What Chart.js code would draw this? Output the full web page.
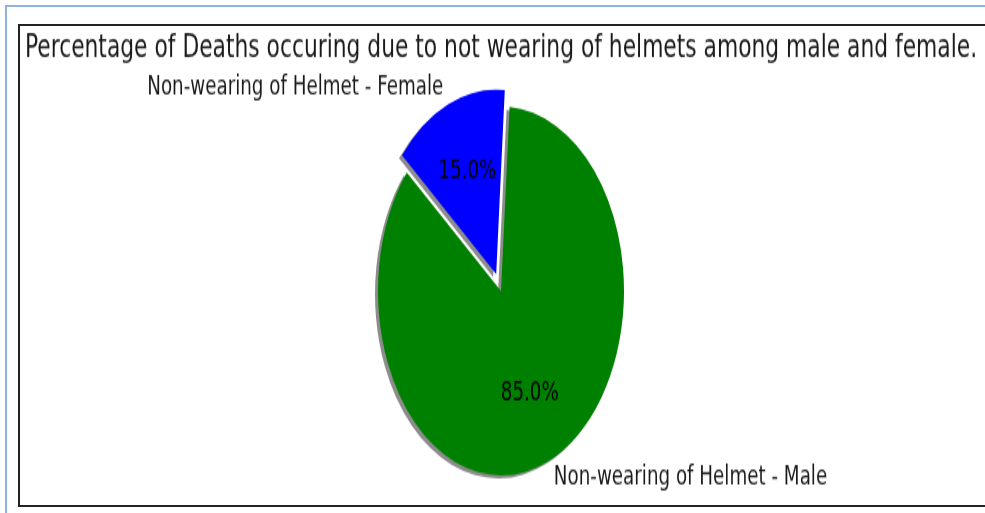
<!DOCTYPE html>
<html>
<head>
<meta charset="utf-8">
<title>Helmet deaths by gender</title>
<script src="https://cdn.jsdelivr.net/npm/chart.js@4.4.0/dist/chart.umd.min.js"></script>
<style>
  html, body { margin: 0; padding: 0; background: #fff; width: 985px; height: 513px; overflow: hidden; }
  .outer { position: absolute; left: 5px; top: 5px; width: 1000px; height: 520px; box-sizing: border-box;
           border-left: 2px solid #8db3e2; border-top: 2px solid #8db3e2; }
  .frame { position: absolute; left: 18px; top: 24px; width: 1000px; height: 483px; box-sizing: border-box;
           border: 2px solid #222; border-right: none; }
  /* the original picture was stretched vertically, so stretch the canvas the same way */
  .wrap { position: absolute; left: 0; top: 0; width: 985px; height: 342px; transform: scale(1, 1.5); transform-origin: 0 0; }
</style>
</head>
<body>
<div class="outer"></div>
<div class="frame"></div>
<div class="wrap"><canvas id="pieChart" width="985" height="342"></canvas></div>
<script>
const labels = ["Non-wearing of Helmet - Female", "Non-wearing of Helmet - Male"];
const deathShare = [15, 85];
const sliceColors = ["#0000ff", "#008000"];
const explode = [0.1, 0];
const titleText = "Percentage of Deaths occuring due to not wearing of helmets among male and female.";

const total = deathShare.reduce((a, b) => a + b, 0);

// push exploded slices out along their middle angle (like matplotlib's explode)
const explodePlugin = {
  id: "explode",
  afterDatasetUpdate(chart, args) {
    args.meta.data.forEach((arc, i) => {
      const mid = (arc.startAngle + arc.endAngle) / 2;
      const d = (explode[i] || 0) * arc.outerRadius;
      arc.x += Math.cos(mid) * d;
      arc.y += Math.sin(mid) * d;
    });
  }
};

// grey drop shadow under the wedges
const shadowPlugin = {
  id: "pieShadow",
  beforeDatasetsDraw(chart) {
    const ctx = chart.ctx;
    ctx.save();
    ctx.shadowColor = "rgba(0, 0, 0, 0.45)";
    ctx.shadowOffsetX = -3;
    ctx.shadowOffsetY = 2;
    ctx.shadowBlur = 0;
  },
  afterDatasetsDraw(chart) {
    chart.ctx.restore();
  }
};

// title, outside labels and percentages
const textPlugin = {
  id: "pieText",
  afterDraw(chart) {
    const ctx = chart.ctx;
    const area = chart.chartArea;
    ctx.save();
    ctx.fillStyle = "#1a1a1a";
    ctx.font = "21.8px 'DejaVu Sans'";
    ctx.textBaseline = "alphabetic";
    ctx.textAlign = "center";
    ctx.fillText(titleText, (area.left + area.right) / 2, 38.2);

    ctx.font = "18.3px 'DejaVu Sans'";
    ctx.textBaseline = "middle";
    chart.getDatasetMeta(0).data.forEach((arc, i) => {
      const mid = (arc.startAngle + arc.endAngle) / 2;
      const r = arc.outerRadius;
      const cos = Math.cos(mid);
      const sin = Math.sin(mid);
      ctx.textAlign = cos < 0 ? "right" : "left";
      ctx.fillText(labels[i], arc.x + cos * r * 1.1, arc.y + sin * r * 1.1);
      ctx.textAlign = "center";
      ctx.fillStyle = "#000";
      const pct = (deathShare[i] / total * 100).toFixed(1) + "%";
      ctx.fillText(pct, arc.x + cos * r * 0.6, arc.y + sin * r * 0.6);
      ctx.fillStyle = "#1a1a1a";
    });
    ctx.restore();
  }
};

const ctx = document.getElementById("pieChart").getContext("2d");
const pieChart = new Chart(ctx, {
  type: "pie",
  data: {
    labels: labels,
    datasets: [
      {
        data: deathShare,
        backgroundColor: sliceColors,
        borderWidth: 0,
      },
    ],
  },
  options: {
    responsive: false,
    animation: false,
    events: [],
    rotation: -50,
    layout: {
      padding: { left: 378, right: 361, top: 71, bottom: 25 },
    },
    plugins: {
      legend: { display: false },
      tooltip: { enabled: false },
      title: { display: false },
    },
  },
  plugins: [explodePlugin, shadowPlugin, textPlugin],
});
</script>
</body>
</html>
